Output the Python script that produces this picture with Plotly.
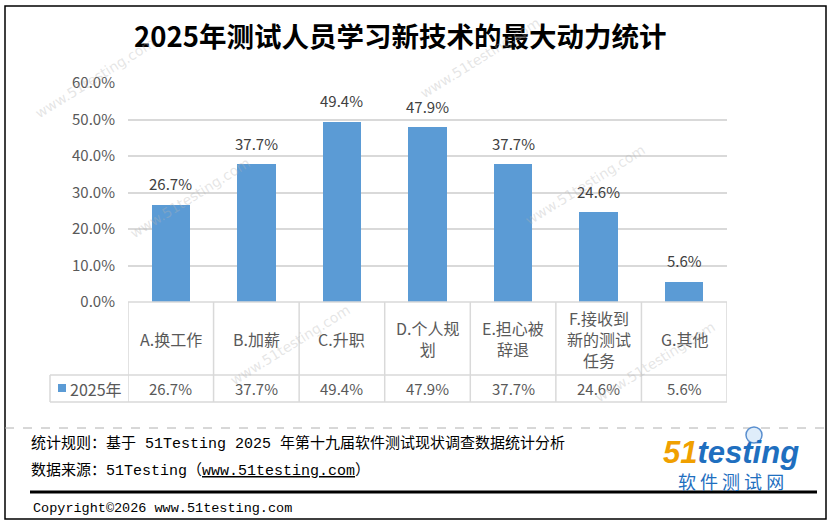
import plotly.graph_objects as go

W, H = 832, 524

categories = ["A.换工作", "B.加薪", "C.升职", "D.个人规<br>划", "E.担心被<br>辞退", "F.接收到<br>新的测试<br>任务", "G.其他"]
values = [0.267, 0.377, 0.494, 0.479, 0.377, 0.246, 0.056]
series_name = "2025年"
y_ticks = [0.0, 0.1, 0.2, 0.3, 0.4, 0.5, 0.6]
y_tick_labels = ["0.0%", "10.0%", "20.0%", "30.0%", "40.0%", "50.0%", "60.0%"]

title_text = "2025年测试人员学习新技术的最大动力统计"
footer_rule = "统计规则：基于 51Testing 2025 年第十九届软件测试现状调查数据统计分析"
footer_source = "数据来源：51Testing（<u>www.51testing.com</u>）"
copyright_text = "Copyright©2026 www.51testing.com"

BAR = "#5b9bd5"
GRID = "#d9d9d9"
CJK = "Noto Sans CJK SC"


def px(x):
    return x / W


def py(y):
    return 1 - y / H


n = len(categories)
x_idx = list(range(n))

fig = go.Figure()
fig.add_trace(go.Bar(
    x=x_idx, y=values, width=0.45, marker=dict(color=BAR, line=dict(width=0)),
    hoverinfo="skip", showlegend=False,
))

annotations = []
shapes = []

# data labels above bars
for i, v in zip(x_idx, values):
    annotations.append(dict(x=i, y=v, xref="x", yref="y", text=f"{v*100:.1f}%",
                            showarrow=False, yanchor="middle", yshift=21,
                            font=dict(family=CJK, size=15, color="#404040")))

# table
x_left_px, x_right_px = 128, 727
y_top, y_mid, y_bot = 302, 375, 402
leg_left = 50
line_style = dict(color=GRID, width=1.5)
shapes.append(dict(type="line", xref="paper", yref="paper", x0=px(x_left_px), x1=px(x_right_px),
                   y0=py(y_top), y1=py(y_top), line=line_style))
for yy in (y_mid, y_bot):
    shapes.append(dict(type="line", xref="paper", yref="paper", x0=px(leg_left), x1=px(x_right_px),
                       y0=py(yy), y1=py(yy), line=line_style))
for b in range(n + 1):
    shapes.append(dict(type="line", xref="x", yref="paper", x0=b - 0.5, x1=b - 0.5,
                       y0=py(y_top), y1=py(y_bot), line=line_style))
shapes.append(dict(type="line", xref="paper", yref="paper", x0=px(leg_left), x1=px(leg_left),
                   y0=py(y_mid), y1=py(y_bot), line=line_style))

for i, (c, v) in enumerate(zip(categories, values)):
    annotations.append(dict(x=i, y=py((y_top + y_mid) / 2), xref="x", yref="paper", text=c,
                            showarrow=False, yanchor="middle", xanchor="center", align="center",
                            font=dict(family=CJK, size=16, color="#595959")))
    annotations.append(dict(x=i, y=py((y_mid + y_bot) / 2), xref="x", yref="paper", text=f"{v*100:.1f}%",
                            showarrow=False, yanchor="middle", xanchor="center",
                            font=dict(family=CJK, size=15, color="#595959")))

shapes.append(dict(type="rect", xref="paper", yref="paper", x0=px(58), x1=px(66), y0=py(384), y1=py(392),
                   fillcolor=BAR, line=dict(width=0)))
annotations.append(dict(x=px(68), y=py(388.5), xref="paper", yref="paper", text=series_name,
                        showarrow=False, xanchor="left", yanchor="middle",
                        font=dict(family=CJK, size=16, color="#595959")))

# title
annotations.append(dict(x=px(400), y=py(35), xref="paper", yref="paper", text=f"<b>{title_text}</b>",
                        showarrow=False, xanchor="center", yanchor="middle",
                        font=dict(family=CJK, size=27.5, color="#000000")))

# watermarks
for (wx, wy) in [(95, 78), (480, 58), (190, 198), (585, 185), (290, 345), (655, 362)]:
    annotations.append(dict(x=px(wx), y=py(wy), xref="paper", yref="paper", text="www.51testing.com",
                            showarrow=False, textangle=-32, xanchor="center", yanchor="middle",
                            font=dict(family="DejaVu Sans", size=14, color="rgba(180,180,180,0.35)")))

# outer border, separators
shapes.append(dict(type="rect", xref="paper", yref="paper", x0=px(5), x1=px(826), y0=py(6), y1=py(519),
                   line=dict(color="#000000", width=1.5), fillcolor="rgba(0,0,0,0)", layer="above"))
shapes.append(dict(type="line", xref="paper", yref="paper", x0=px(5), x1=px(826), y0=py(428), y1=py(428),
                   line=dict(color="#b0b0b0", width=1, dash="dash")))
shapes.append(dict(type="line", xref="paper", yref="paper", x0=px(30), x1=px(817), y0=py(492), y1=py(492),
                   line=dict(color="#000000", width=3)))

foot_font = dict(family="Liberation Mono, " + CJK, size=15, color="#000000")
annotations.append(dict(x=px(29), y=py(443), xref="paper", yref="paper", text=footer_rule,
                        showarrow=False, xanchor="left", yanchor="middle", font=foot_font))
annotations.append(dict(x=px(29), y=py(471), xref="paper", yref="paper", text=footer_source,
                        showarrow=False, xanchor="left", yanchor="middle", font=foot_font))
annotations.append(dict(x=px(31), y=py(508), xref="paper", yref="paper", text=copyright_text,
                        showarrow=False, xanchor="left", yanchor="middle",
                        font=dict(family="Liberation Mono", size=13.5, color="#000000")))

# logo
annotations.append(dict(x=px(731), y=py(452), xref="paper", yref="paper",
                        text="<b><i><span style='color:#f0a000'>51</span><span style='color:#1f6fbf'>testing</span></i></b>",
                        showarrow=False, xanchor="center", yanchor="middle",
                        font=dict(family="Liberation Sans", size=31)))
shapes.append(dict(type="circle", xref="paper", yref="paper", x0=px(746), x1=px(762), y0=py(427), y1=py(443),
                   line=dict(color="#5a8fcf", width=1.5), fillcolor="rgba(220,235,250,0.9)"))
annotations.append(dict(x=px(731), y=py(481), xref="paper", yref="paper", text="软 件 测 试 网",
                        showarrow=False, xanchor="center", yanchor="middle",
                        font=dict(family=CJK, size=18, color="#1f6fbf")))

fig.update_layout(
    width=W, height=H,
    margin=dict(l=0, r=0, t=0, b=0, pad=0, autoexpand=False),
    paper_bgcolor="#ffffff", plot_bgcolor="#ffffff",
    showlegend=False,
    xaxis=dict(domain=[px(x_left_px), px(x_right_px)], range=[-0.5, n - 0.5], automargin=False,
               showticklabels=False, showgrid=False, zeroline=False, showline=False, ticks=""),
    yaxis=dict(domain=[py(y_top), py(83)], range=[0, 0.6], tickvals=y_ticks, ticktext=y_tick_labels,
               automargin=False,
               showgrid=True, gridcolor=GRID, gridwidth=1.5, zeroline=False, showline=False,
               ticks="", ticklabelstandoff=12,
               tickfont=dict(family=CJK, size=15, color="#595959")),
    annotations=annotations,
    shapes=shapes,
    bargap=0,
)

post = ("document.documentElement.style.margin='0';document.body.style.margin='0';"
        "document.body.style.overflow='hidden';"
        "var d=document.getElementById('{plot_id}');d.style.position='fixed';"
        "d.style.top='0px';d.style.left='0px';")
fig.write_html("out.html", config={"displayModeBar": False}, post_script=post)
